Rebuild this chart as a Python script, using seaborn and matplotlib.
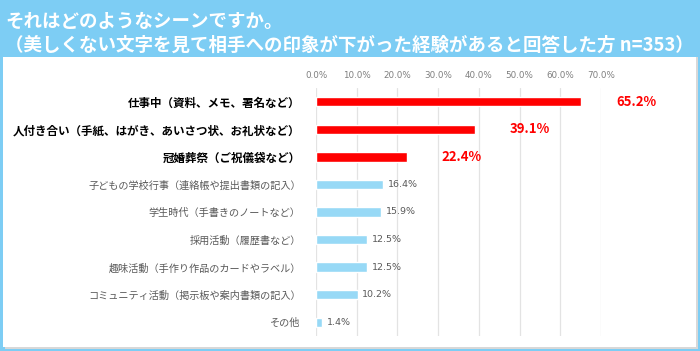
import pandas as pd
import numpy as np
import seaborn as sns
import matplotlib.pyplot as plt
import matplotlib.patches as mypatch

## data
labels = ['仕事中（資料、メモ、署名など）',
          '人付き合い（手紙、はがき、あいさつ状、お礼状など）',
          '冠婚葬祭（ご祝儀袋など）',
          '子どもの学校行事（連絡帳や提出書類の記入）',
          '学生時代（手書きのノートなど）',
          '採用活動（履歴書など）',
          '趣味活動（手作り作品のカードやラベル）',
          'コミュニティ活動（掲示板や案内書類の記入）',
          'その他']
values = [65.2, 39.1, 22.4, 16.4, 15.9, 12.5, 12.5, 10.2, 1.4]
highlight = [True, True, True, False, False, False, False, False, False]
xticks = [0, 10, 20, 30, 40, 50, 60, 70]

df = pd.DataFrame({'label': labels, 'value': values, 'top': highlight})

## setting
sns.set_style('white')
plt.rcParams['font.family'] = ['Noto Sans CJK JP', 'DejaVu Sans']

bg_blue = '#7dcdf4'
red = '#ff0000'
light = '#97d9f6'

fig = plt.figure(figsize=(7, 3.51), dpi=100)
fig.patch.set_facecolor(bg_blue)

# white panel
fig.patches.append(mypatch.Rectangle((5 / 700, 1 - 349 / 351), 693 / 700, 292 / 351,
                                     transform=fig.transFigure, facecolor='#d8d8d8',
                                     edgecolor='none', zorder=-2))
fig.patches.append(mypatch.Rectangle((3 / 700, 1 - 347 / 351), 693 / 700, 290 / 351,
                                     transform=fig.transFigure, facecolor='white',
                                     edgecolor='none', zorder=-1))

fig.text(5 / 700, 1 - 27 / 351, 'それはどのようなシーンですか。', color='white',
         fontsize=13.3, fontweight='bold', va='baseline', ha='left')
fig.text(5 / 700, 1 - 51 / 351, '（美しくない文字を見て相手への印象が下がった経験があると回答した方 n=353）',
         color='white', fontsize=13.3, fontweight='bold', va='baseline', ha='left')

ax = fig.add_axes([316 / 700, 1 - 336 / 351, 285 / 700, 248 / 351])
ax.set_facecolor('none')
ax.set_zorder(1)

palette = [red if t else light for t in highlight]
sns.barplot(data=df, x='value', y='label', hue='label', palette=palette,
            saturation=1, width=0.34, legend=False, ax=ax, orient='h')

ax.set_xlim(0, 70)
ax.set_ylim(8.5, -0.5)
ax.set_xticks(xticks)
ax.set_xticklabels([f'{t:.1f}%' for t in xticks], fontsize=6.3, color='#7f7f7f',
                   family='DejaVu Sans')
ax.xaxis.tick_top()
ax.tick_params(axis='x', length=0, pad=6)
ax.tick_params(axis='y', length=0, pad=11)
ax.grid(axis='x', color='#e3e3e3', linewidth=0.9)
ax.set_axisbelow(True)
for s in ax.spines.values():
    s.set_visible(False)
ax.set_xlabel('')
ax.set_ylabel('')

for lab, t in zip(ax.get_yticklabels(), highlight):
    if t:
        lab.set_fontweight('bold')
        lab.set_fontsize(8.3)
        lab.set_color('black')
    else:
        lab.set_fontsize(7.3)
        lab.set_color('#595959')

for i, (v, t) in enumerate(zip(values, highlight)):
    if t:
        ax.annotate(f'{v:.1f}%', (v, i), xytext=(25, 0), textcoords='offset points',
                    va='center', ha='left', color=red, fontsize=9.5, fontweight='bold')
    else:
        ax.annotate(f'{v:.1f}%', (v, i), xytext=(3.5, 0), textcoords='offset points',
                    va='center', ha='left', color='#595959', fontsize=6.8,
                    family='DejaVu Sans')

fig.savefig('out.png', dpi=100, facecolor=fig.get_facecolor())
